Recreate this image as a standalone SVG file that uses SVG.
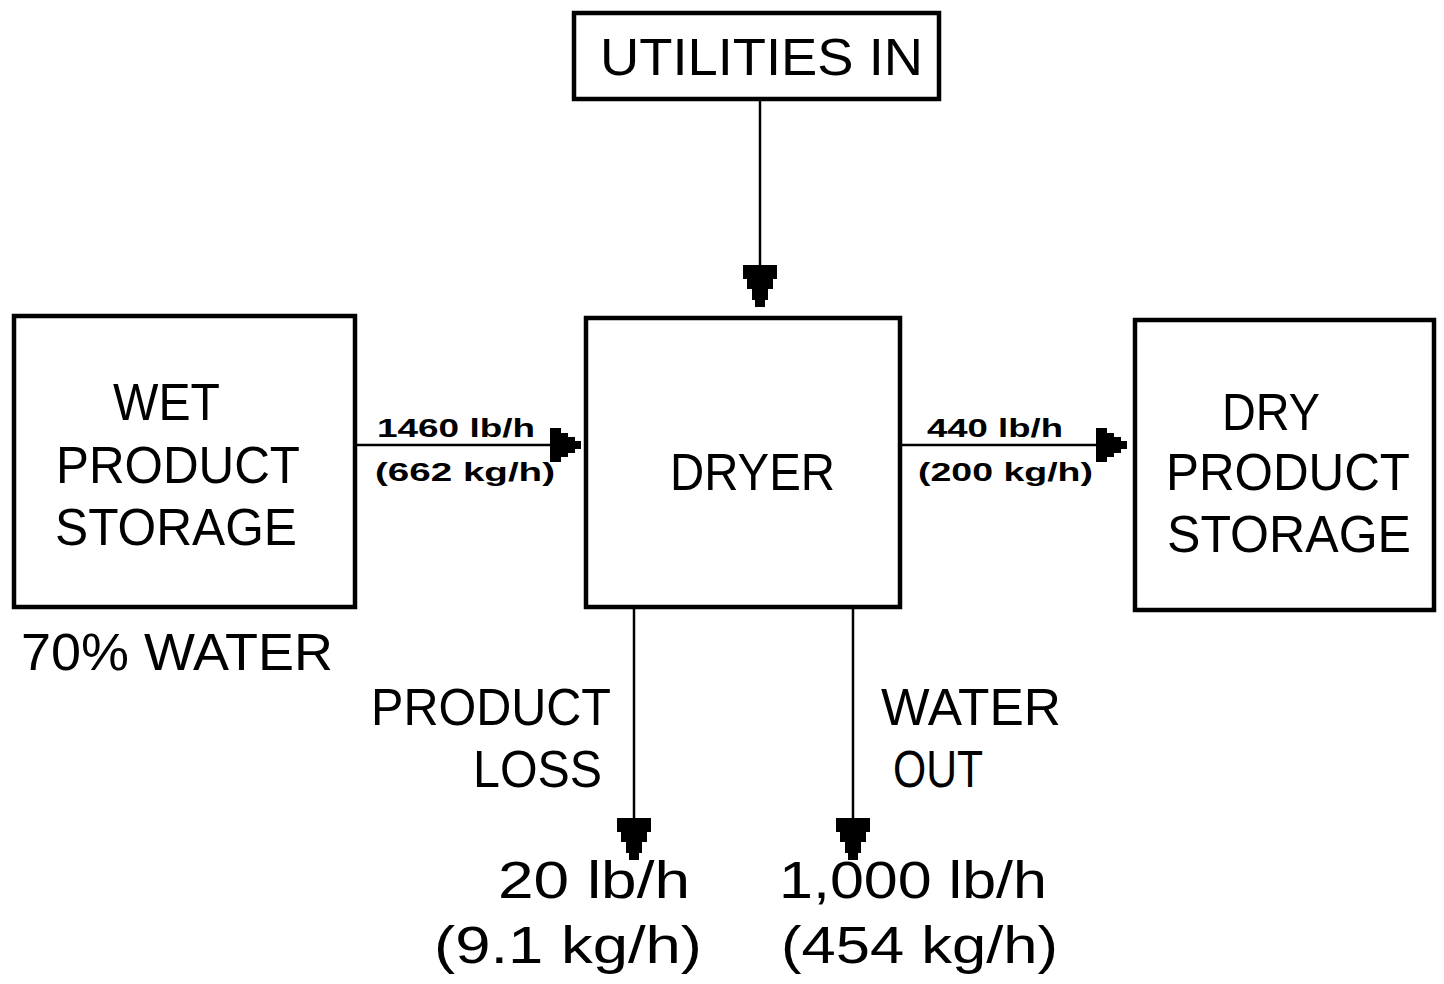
<svg xmlns="http://www.w3.org/2000/svg" width="1444" height="984" viewBox="0 0 1444 984">
<style>
.box{fill:#fff;stroke:#000;stroke-width:4.5}
.conn{stroke:#000;stroke-width:2.5;fill:none}
.t{font-family:"Liberation Sans",Arial,sans-serif;font-size:52px;fill:#000}
.s{font-family:"Liberation Sans",Arial,sans-serif;font-size:26px;font-weight:bold;fill:#000}
</style>
<defs>
<marker id="ahv" viewBox="-42 -17 42 34" refX="0" refY="0" markerWidth="42" markerHeight="34" markerUnits="userSpaceOnUse" orient="auto" overflow="visible">
<path d="M-42,-17 H-28 V-13 H-18 V-8 H-7 V-5 H0 V5 H-7 V8 H-18 V13 H-28 V17 H-42 Z" fill="#000"/>
</marker>
<marker id="ahh" viewBox="-31 -17 31 34" refX="0" refY="0" markerWidth="31" markerHeight="34" markerUnits="userSpaceOnUse" orient="auto" overflow="visible">
<path d="M-31,-17 H-20 V-12 H-13 V-8 H-6 V-4 H0 V4 H-6 V8 H-13 V12 H-20 V17 H-31 Z" fill="#000"/>
</marker>
</defs>
<rect width="1444" height="984" fill="#fff"/>
<g id="connectors">
<line class="conn" x1="760" y1="99" x2="760" y2="307" marker-end="url(#ahv)"/>
<line class="conn" x1="355" y1="445" x2="581" y2="445" marker-end="url(#ahh)"/>
<line class="conn" x1="900" y1="445" x2="1127" y2="445" marker-end="url(#ahh)"/>
<line class="conn" x1="634" y1="607" x2="634" y2="860" marker-end="url(#ahv)"/>
<line class="conn" x1="853" y1="607" x2="853" y2="860" marker-end="url(#ahv)"/>
<text class="s" x="377" y="437" textLength="158" lengthAdjust="spacingAndGlyphs">1460 lb/h</text>
<text class="s" x="375" y="481" textLength="180" lengthAdjust="spacingAndGlyphs">(662 kg/h)</text>
<text class="s" x="927" y="437" textLength="136" lengthAdjust="spacingAndGlyphs">440 lb/h</text>
<text class="s" x="918" y="481" textLength="175" lengthAdjust="spacingAndGlyphs">(200 kg/h)</text>
<text class="t" x="371" y="725" textLength="240" lengthAdjust="spacingAndGlyphs">PRODUCT</text>
<text class="t" x="473" y="787" textLength="129" lengthAdjust="spacingAndGlyphs">LOSS</text>
<text class="t" x="881" y="725" textLength="180" lengthAdjust="spacingAndGlyphs">WATER</text>
<text class="t" x="893" y="787" textLength="90" lengthAdjust="spacingAndGlyphs">OUT</text>
<text class="t" x="498" y="898" textLength="192" lengthAdjust="spacingAndGlyphs">20 lb/h</text>
<text class="t" x="779" y="898" textLength="268" lengthAdjust="spacingAndGlyphs">1,000 lb/h</text>
<text class="t" x="434" y="963" textLength="268" lengthAdjust="spacingAndGlyphs">(9.1 kg/h)</text>
<text class="t" x="781" y="963" textLength="277" lengthAdjust="spacingAndGlyphs">(454 kg/h)</text>
</g>
<g id="utilities">
<rect class="box" x="574" y="13" width="365" height="86"/>
<text class="t" x="600" y="75" textLength="323" lengthAdjust="spacingAndGlyphs">UTILITIES IN</text>
</g>
<g id="wet">
<rect class="box" x="14" y="316" width="341" height="291"/>
<text class="t" x="113" y="420" textLength="107" lengthAdjust="spacingAndGlyphs">WET</text>
<text class="t" x="56" y="483" textLength="244" lengthAdjust="spacingAndGlyphs">PRODUCT</text>
<text class="t" x="55" y="545" textLength="242" lengthAdjust="spacingAndGlyphs">STORAGE</text>
<text class="t" x="21" y="670" textLength="312" lengthAdjust="spacingAndGlyphs">70% WATER</text>
</g>
<g id="dryer">
<rect class="box" x="586" y="318" width="314" height="289"/>
<text class="t" x="670" y="490" textLength="165" lengthAdjust="spacingAndGlyphs">DRYER</text>
</g>
<g id="dry">
<rect class="box" x="1135" y="320" width="299" height="290"/>
<text class="t" x="1222" y="430" textLength="98" lengthAdjust="spacingAndGlyphs">DRY</text>
<text class="t" x="1166" y="490" textLength="244" lengthAdjust="spacingAndGlyphs">PRODUCT</text>
<text class="t" x="1167" y="552" textLength="244" lengthAdjust="spacingAndGlyphs">STORAGE</text>
</g>
</svg>
